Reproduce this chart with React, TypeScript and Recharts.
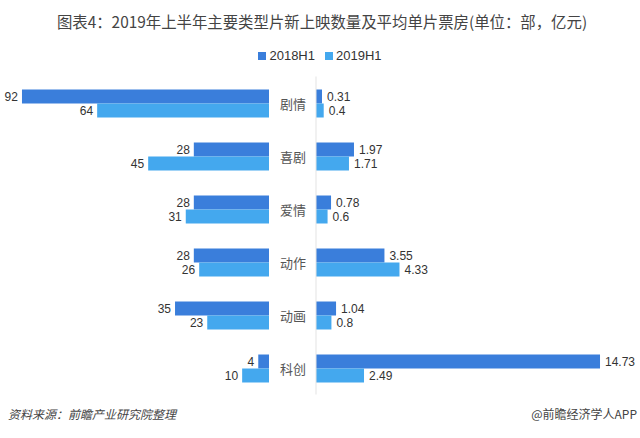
import React from "react";
import { BarChart, Bar, XAxis, YAxis, LabelList } from "recharts";

const categories = ["剧情", "喜剧", "爱情", "动作", "动画", "科创"];
const count2018 = [92, 28, 28, 28, 35, 4];
const count2019 = [64, 45, 31, 26, 23, 10];
const box2018 = [0.31, 1.97, 0.78, 3.55, 1.04, 14.73];
const box2019 = [0.4, 1.71, 0.6, 4.33, 0.8, 2.49];
const seriesNames = ["2018H1", "2019H1"];
const colors = ["#3A7EDB", "#44A8EE"];

const leftData = categories.map((name, i) => ({ name, a: count2018[i], b: count2019[i] }));
const rightData = categories.map((name, i) => ({ name, a: box2018[i], b: box2019[i] }));

const FONT = "'Liberation Sans', 'Noto Sans CJK SC', sans-serif";
const CJK = "'Noto Sans CJK SC', sans-serif";

const LeftLabel = (props: any) => {
  const { x, y, width, height, value } = props;
  const left = Math.min(x, x + width);
  return (
    <text x={left - 4} y={y + height / 2} textAnchor="end" dominantBaseline="central" fontSize={12} fill="#333" fontFamily={FONT}>
      {value}
    </text>
  );
};

const RightLabel = (props: any) => {
  const { x, y, width, height, value } = props;
  const right = Math.max(x, x + width);
  return (
    <text x={right + 5} y={y + height / 2} textAnchor="start" dominantBaseline="central" fontSize={12} fill="#333" fontFamily={FONT}>
      {value}
    </text>
  );
};

const CatTick = (props: any) => {
  const { x, y, payload } = props;
  return (
    <text x={x - 23} y={y} textAnchor="middle" dominantBaseline="central" fontSize={13} fill="#555" fontFamily={CJK}>
      {payload.value}
    </text>
  );
};

export default function App() {
  return (
    <div style={{ position: "absolute", top: 0, left: 0, width: 640, height: 438, background: "#fff", overflow: "visible", fontFamily: CJK }}>
      <div style={{ position: "absolute", top: 10, left: 2, width: 640, textAlign: "center", fontSize: 15.4, color: "#444", fontFamily: CJK }}>
        图表4：2019年上半年主要类型片新上映数量及平均单片票房(单位：部，亿元)
      </div>
      <div style={{ position: "absolute", top: 48, left: 0, width: 640, display: "flex", justifyContent: "center", alignItems: "center", fontSize: 13, color: "#333", fontFamily: FONT }}>
        {seriesNames.map((s, i) => (
          <div key={s} style={{ display: "flex", alignItems: "center", marginLeft: i === 0 ? 0 : 10 }}>
            <span style={{ display: "inline-block", width: 8, height: 8, background: colors[i], marginRight: 3 }} />
            <span>{s}</span>
          </div>
        ))}
      </div>
      <div style={{ position: "absolute", top: 0, left: 0 }}>
        <BarChart width={640} height={438} data={leftData} layout="vertical" barSize={14} barGap={0}
          margin={{ top: 76.5, bottom: 43.5, left: 0.5, right: 371 }}>
          <XAxis type="number" domain={[0, 100]} reversed hide />
          <YAxis type="category" dataKey="name" orientation="right" width={0} tick={false} tickLine={false} axisLine={{ stroke: "#e3e3e3" }} />
          <Bar dataKey="a" fill={colors[0]} isAnimationActive={false}>
            <LabelList dataKey="a" content={<LeftLabel />} />
          </Bar>
          <Bar dataKey="b" fill={colors[1]} isAnimationActive={false}>
            <LabelList dataKey="b" content={<LeftLabel />} />
          </Bar>
        </BarChart>
      </div>
      <div style={{ position: "absolute", top: 0, left: 0 }}>
        <BarChart width={640} height={438} data={rightData} layout="vertical" barSize={14} barGap={0}
          margin={{ top: 76.5, bottom: 43.5, left: 269, right: 15.5 }}>
          <XAxis type="number" domain={[0, 16]} hide />
          <YAxis type="category" dataKey="name" width={47} tickLine={false} tickSize={0} tickMargin={0} axisLine={{ stroke: "#e3e3e3" }} tick={<CatTick />} />
          <Bar dataKey="a" fill={colors[0]} isAnimationActive={false}>
            <LabelList dataKey="a" content={<RightLabel />} />
          </Bar>
          <Bar dataKey="b" fill={colors[1]} isAnimationActive={false}>
            <LabelList dataKey="b" content={<RightLabel />} />
          </Bar>
        </BarChart>
      </div>
      <div style={{ position: "absolute", top: 405, left: 8, fontSize: 12, fontStyle: "italic", color: "#444", fontFamily: CJK }}>
        资料来源：前瞻产业研究院整理
      </div>
      <div style={{ position: "absolute", top: 405, right: 3, fontSize: 12, color: "#444", fontFamily: CJK }}>
        @前瞻经济学人APP
      </div>
    </div>
  );
}
